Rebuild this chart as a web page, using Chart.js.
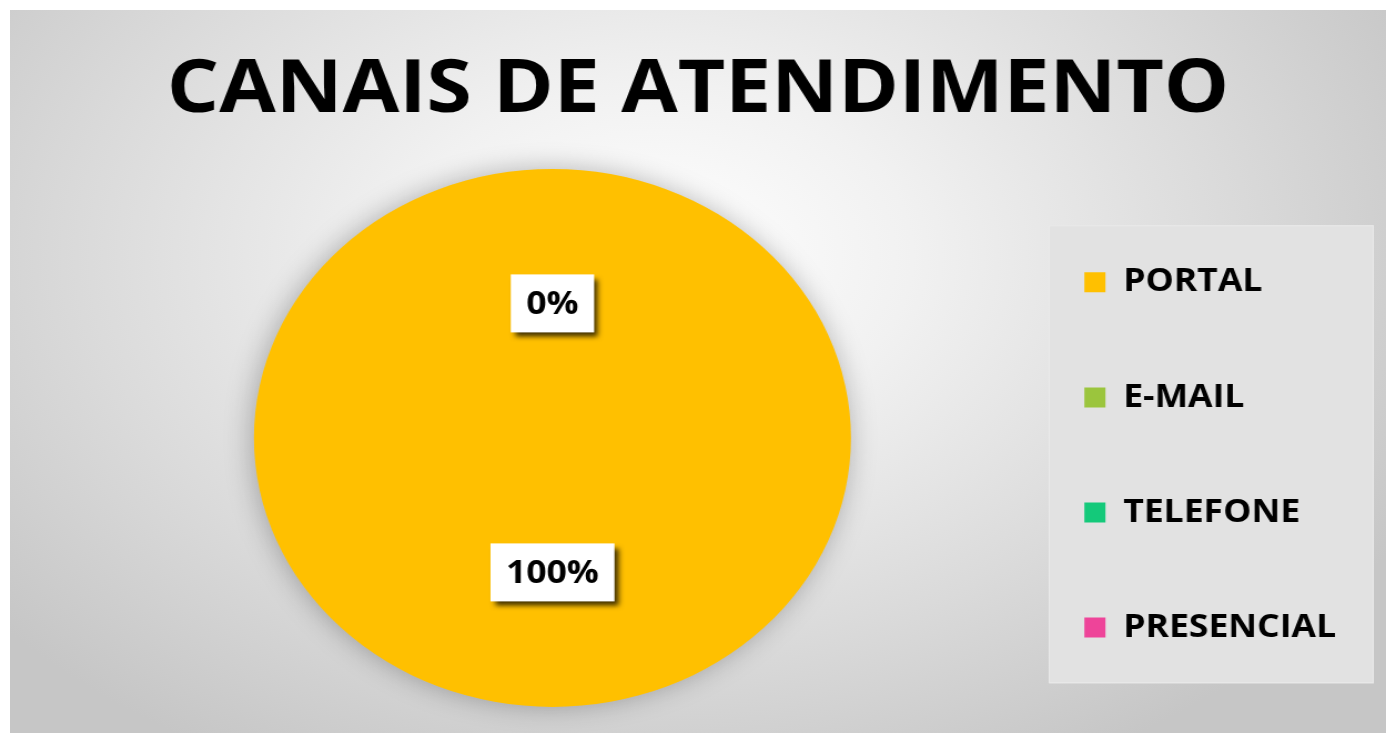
<!DOCTYPE html>
<html>
<head>
<meta charset="utf-8">
<script src="https://cdn.jsdelivr.net/npm/chart.js@4.4.1/dist/chart.umd.min.js"></script>
<style>
body { margin: 0; background: #fff; }
#frame {
    position: absolute; left: 10px; top: 10px; width: 1376px; height: 723px; overflow: hidden;
    background: radial-gradient(ellipse 62% 80% at 47% 34%, #ffffff 0%, #f1f1f1 30%, #dadada 68%, #c6c6c6 100%);
}
#chart { display: block; transform: scaleX(1.1097); transform-origin: 0 0; }
</style>
</head>
<body>
<div id="frame"><canvas id="chart" width="1240" height="723"></canvas></div>
<script>
const categories = ["PORTAL", "E-MAIL", "TELEFONE", "PRESENCIAL"];
const shares = [100, 0, 0, 0];
const colors = ["#FFC000", "#9BC53D", "#14C97A", "#EE4499"];
const chartTitle = "CANAIS DE ATENDIMENTO";

const FONT = "'Open Sans', 'Noto Sans', sans-serif";
const LEGEND_PAD = 25.5;

// light grey panel behind the legend
const legendPanel = {
    id: "legendPanel",
    beforeDraw(chart) {
        const lg = chart.legend;
        const ctx = chart.ctx;
        const firstTop = lg.top + lg._computeTitleHeight() + LEGEND_PAD;
        const x = lg.left + LEGEND_PAD - 32;
        const y = firstTop - 41;
        ctx.save();
        ctx.fillStyle = "#e2e2e2";
        ctx.fillRect(x, y, chart.width - 11 - x, 458);
        ctx.strokeStyle = "#ebebeb";
        ctx.lineWidth = 1;
        ctx.strokeRect(x + 0.5, y + 0.5, chart.width - 12 - x, 457);
        ctx.restore();
    }
};

const pieShadow = {
    id: "pieShadow",
    beforeDatasetsDraw(chart) {
        const ctx = chart.ctx;
        ctx.save();
        ctx.shadowColor = "rgba(0,0,0,0.28)";
        ctx.shadowBlur = 26;
        ctx.shadowOffsetX = -2;
        ctx.shadowOffsetY = 0;
    },
    afterDatasetsDraw(chart) {
        chart.ctx.restore();
    }
};

// white value boxes with a hard shadow
const valueBoxes = {
    id: "valueBoxes",
    afterDatasetsDraw(chart) {
        const ctx = chart.ctx;
        const meta = chart.getDatasetMeta(0);
        const seen = [];
        ctx.save();
        ctx.font = "bold 32px " + FONT;
        ctx.textAlign = "center";
        ctx.textBaseline = "middle";
        meta.data.forEach((arc, i) => {
            const p = arc.tooltipPosition();
            const key = Math.round(p.x) + "," + Math.round(p.y);
            if (seen.includes(key)) return;
            seen.push(key);
            const text = shares[i] + "%";
            const w = ctx.measureText(text).width + 28;
            const h = 58;
            ctx.shadowColor = "rgba(0,0,0,0.75)";
            ctx.shadowBlur = 5;
            ctx.shadowOffsetX = 4;
            ctx.shadowOffsetY = 5;
            ctx.fillStyle = "#ffffff";
            ctx.fillRect(p.x - w / 2, p.y - h / 2, w, h);
            ctx.shadowColor = "transparent";
            ctx.fillStyle = "#000";
            ctx.fillText(text, p.x, p.y + 1);
        });
        ctx.restore();
    }
};

new Chart(document.getElementById("chart"), {
    type: "pie",
    data: {
        labels: categories,
        datasets: [{
            data: shares,
            backgroundColor: colors,
            borderWidth: 0,
            radius: 269,
            clip: false
        }]
    },
    options: {
        responsive: false,
        animation: false,
        events: [],
        layout: { padding: { left: 35, right: 35, top: 0, bottom: 0 } },
        plugins: {
            tooltip: { enabled: false },
            title: {
                display: true,
                text: chartTitle,
                color: "#000",
                font: { family: FONT, size: 74, weight: "bold", lineHeight: 1.2 },
                padding: { top: 37, bottom: 7 }
            },
            legend: {
                position: "right",
                align: "start",
                fullSize: false,
                title: { display: true, text: "", font: { size: 12, lineHeight: 1 }, padding: 43 },
                labels: {
                    color: "#000",
                    font: { family: FONT, size: 32, weight: "bold", lineHeight: 2.8 },
                    boxWidth: 19,
                    boxHeight: 20,
                    padding: LEGEND_PAD,
                    generateLabels: () => categories.map((c, i) => ({
                        text: [c],
                        fillStyle: colors[i],
                        strokeStyle: colors[i],
                        fontColor: "#000",
                        lineWidth: 0,
                        hidden: false,
                        index: i
                    }))
                }
            }
        }
    },
    plugins: [legendPanel, pieShadow, valueBoxes]
});
</script>
</body>
</html>
